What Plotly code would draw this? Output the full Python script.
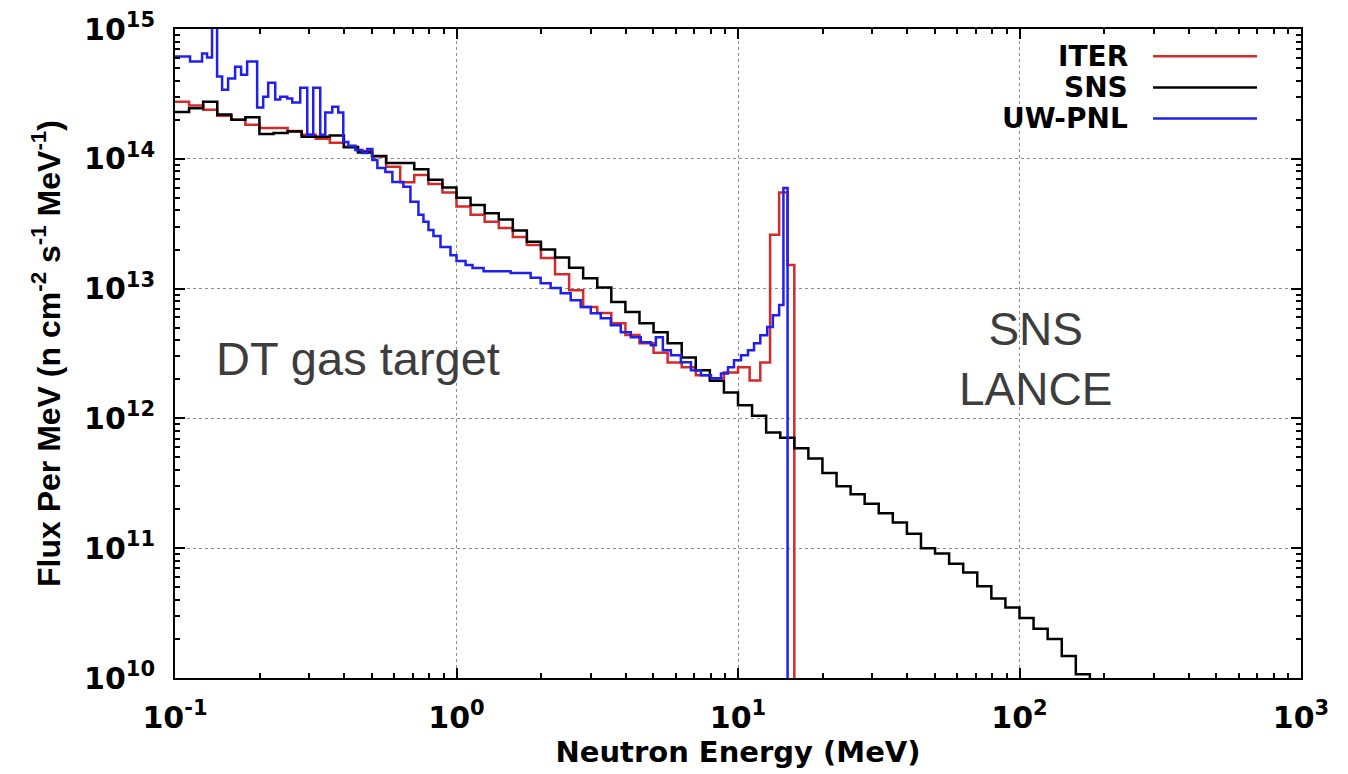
import plotly.graph_objects as go

# ---------------- data ----------------
# 20 equal-lethargy bins per decade (mantissas of the group edges)
GROUP_MANTISSA = [1.0, 1.122, 1.259, 1.413, 1.585, 1.778, 1.995, 2.239, 2.512, 2.818,
                  3.162, 3.548, 3.981, 4.467, 5.012, 5.623, 6.310, 7.079, 7.943, 8.913]
DECADES = [-1, 0, 1, 2]
GRID_EDGES = [m * 10 ** d for d in DECADES for m in GROUP_MANTISSA] + [1000.0]

# SNS (black) : one value per 20/decade group, from 0.1 MeV
sns_flux = [2.29e14, 2.45e14, 2.75e14, 2.19e14, 2.0e14, 2.09e14, 1.55e14, 1.58e14, 1.62e14, 1.48e14,
            1.48e14, 1.51e14, 1.23e14, 1.12e14, 1.05e14, 9.3e13, 9.3e13, 8.3e13, 6.9e13, 6.0e13,
            5.0e13, 4.4e13, 3.8e13, 3.4e13, 2.8e13, 2.3e13, 2.0e13, 1.74e13, 1.45e13, 1.2e13,
            1.02e13, 7.9e12, 6.6e12, 5.4e12, 4.6e12, 3.8e12, 2.95e12, 2.35e12, 1.95e12, 1.58e12,
            1.26e12, 1.05e12, 7.8e11, 7.1e11, 5.9e11, 4.9e11, 3.8e11, 3.0e11, 2.6e11, 2.2e11,
            1.86e11, 1.58e11, 1.29e11, 1.0e11, 9.1e10, 7.6e10, 6.5e10, 5.1e10, 4.1e10, 3.5e10,
            2.9e10, 2.4e10, 2.0e10, 1.48e10, 1.07e10]

# ITER (red) : 20/decade groups up to 10 MeV, then 1 MeV groups up to the 14 MeV peak
iter_fine_edges = [11.0, 12.0, 13.0, 14.0, 15.0, 15.85]
iter_flux = [2.75e14, 2.57e14, 2.39e14, 2.15e14, 2.0e14, 1.83e14, 1.73e14, 1.73e14, 1.64e14, 1.53e14,
             1.43e14, 1.33e14, 1.24e14, 1.15e14, 1.04e14, 8.7e13, 6.6e13, 7.5e13, 6.4e13, 5.5e13,
             4.3e13, 3.7e13, 3.27e13, 2.93e13, 2.5e13, 2.17e13, 1.72e13, 1.29e13, 9.7e12, 7.2e12,
             6.5e12, 5.4e12, 4.4e12, 3.8e12, 3.2e12, 2.7e12, 2.48e12, 2.15e12, 2.04e12, 2.26e12,
             2.48e12, 1.96e12, 2.7e12, 2.6e13, 5.5e13, 1.52e13]

# UW-PNL (blue) : lower bin edges (MeV) and flux per bin
uw_low_edge = [0.1, 0.1131, 0.1248, 0.1300, 0.1354, 0.1411, 0.1470, 0.1544, 0.1635, 0.1717,
               0.1804, 0.1958, 0.2057, 0.2143, 0.2270, 0.2365, 0.2504, 0.2609, 0.2785, 0.2950,
               0.3098, 0.3281, 0.3419, 0.3620, 0.3802, 0.3961, 0.4127, 0.4371, 0.4628, 0.4822,
               0.5024, 0.5235, 0.5589, 0.5918, 0.6477, 0.6860, 0.7324, 0.7632, 0.7951, 0.8281,
               0.8772, 0.9519, 1.0, 1.077, 1.140, 1.248, 1.557, 1.834, 1.990, 2.160,
               2.345, 2.545, 2.762, 2.999, 3.254, 3.532, 3.834, 4.161, 4.517, 4.902,
               5.107, 5.409, 5.775, 6.268, 6.804, 7.385, 8.016, 8.700, 9.214, 9.678,
               10.25, 10.85, 11.40, 12.0, 12.7, 13.3, 14.0, 14.5]
uw_top_edge = 15.0
uw_flux = [6.13e14, 5.61e14, 6.47e14, 6.03e14, 1.1e15, 4.30e14, 3.41e14, 4.15e14, 5.13e14, 4.45e14,
           5.61e14, 2.48e14, 3.01e14, 3.86e14, 2.86e14, 3.01e14, 2.91e14, 2.71e14, 3.53e14, 1.53e14,
           3.53e14, 1.53e14, 2.27e14, 2.52e14, 2.27e14, 1.35e14, 1.26e14, 1.17e14, 1.11e14, 1.19e14,
           9.8e13, 8.5e13, 7.9e13, 6.64e13, 6.08e13, 4.66e13, 3.70e13, 3.27e13, 2.83e13, 2.54e13,
           2.09e13, 1.81e13, 1.63e13, 1.52e13, 1.44e13, 1.36e13, 1.32e13, 1.21e13, 1.10e13, 1.01e13,
           9.2e12, 8.15e12, 7.2e12, 6.47e12, 5.92e12, 5.23e12, 4.61e12, 4.22e12, 3.86e12, 3.66e12,
           4.22e12, 3.35e12, 3.06e12, 2.71e12, 2.35e12, 2.15e12, 2.04e12, 2.22e12, 2.48e12, 2.81e12,
           3.06e12, 3.35e12, 3.79e12, 4.38e12, 5.05e12, 6.24e12, 7.46e12, 5.97e13]

SERIES = ["ITER", "SNS", "UW-PNL"]
COLORS = {"ITER": "#d42a2a", "SNS": "#000000", "UW-PNL": "#1f1fee"}

x_tickvals = [0.1, 1, 10, 100, 1000]
x_ticktext = ["10<sup>-1</sup>", "10<sup>0</sup>", "10<sup>1</sup>", "10<sup>2</sup>", "10<sup>3</sup>"]
y_tickvals = [1e10, 1e11, 1e12, 1e13, 1e14, 1e15]
y_ticktext = ["10<sup>10</sup>", "10<sup>11</sup>", "10<sup>12</sup>", "10<sup>13</sup>",
              "10<sup>14</sup>", "10<sup>15</sup>"]
FLOOR = 1e8  # below the axis: histogram falls off the plot


def histogram_steps(edges, values):
    """edges has len(values)+1 entries; returns hv-step x/y ending with a drop."""
    xs = list(edges[:len(values)]) + [edges[len(values)], edges[len(values)]]
    ys = list(values) + [values[-1], FLOOR]
    return xs, ys


sns_edges = GRID_EDGES[:len(sns_flux) + 1]
iter_edges = GRID_EDGES[:41] + iter_fine_edges
uw_edges = uw_low_edge + [uw_top_edge]

data = {
    "ITER": histogram_steps(iter_edges, iter_flux),
    "SNS": histogram_steps(sns_edges, sns_flux),
    "UW-PNL": histogram_steps(uw_edges, uw_flux),
}

fig = go.Figure()
for name in SERIES:
    xs, ys = data[name]
    fig.add_trace(go.Scatter(x=xs, y=ys, mode="lines", name=name,
                             line=dict(color=COLORS[name], width=2.5, shape="hv"),
                             showlegend=False))

TICK_FONT = dict(family="DejaVu Sans", size=30, color="black", weight="bold")
axis_common = dict(
    type="log", showline=True, linecolor="black", linewidth=2, mirror="ticks",
    ticks="inside", ticklen=10, tickwidth=2, tickcolor="black",
    showgrid=True, gridcolor="#8a8a8a", gridwidth=1, griddash="dot",
    zeroline=False, tickfont=TICK_FONT, tickmode="array", automargin=False,
    minor=dict(ticks="inside", ticklen=5, tickwidth=1.5, tickcolor="black",
               dtick="D1", showgrid=False),
)

fig.update_xaxes(range=[-1, 3], tickvals=x_tickvals, ticktext=x_ticktext,
                 ticklabelstandoff=12,
                 title=dict(text="Neutron Energy (MeV)", standoff=8,
                            font=dict(family="DejaVu Sans", size=29, weight="bold", color="black")),
                 **axis_common)
fig.update_yaxes(range=[10, 15], tickvals=y_tickvals, ticktext=y_ticktext,
                 ticklabelstandoff=12,
                 title=dict(text="Flux Per MeV (n cm<sup>-2</sup> s<sup>-1</sup> MeV<sup>-1</sup>)",
                            standoff=14,
                            font=dict(family="Liberation Sans", size=32,
                                      weight="bold", color="black")),
                 **axis_common)

# custom legend (label to the left of its line sample, as in the original)
legend_rows = [0.958, 0.910, 0.862]
for name, yr in zip(SERIES, legend_rows):
    fig.add_annotation(x=0.848, y=yr, xref="paper", yref="paper", text=name,
                       showarrow=False, xanchor="right", yanchor="middle",
                       font=dict(family="DejaVu Sans", size=28, weight="bold", color="black"))
    fig.add_shape(type="line", xref="paper", yref="paper", x0=0.8686, x1=0.9609, y0=yr, y1=yr,
                  line=dict(color=COLORS[name], width=2.5))

fig.add_annotation(x=0.1625, y=0.493, xref="paper", yref="paper", text="DT gas target",
                   showarrow=False, xanchor="center", yanchor="middle",
                   font=dict(family="Liberation Sans", size=47, color="#3d3d3d"))
fig.add_annotation(x=0.7638, y=0.4915, xref="paper", yref="paper", text="SNS<br>LANCE",
                   showarrow=False, xanchor="center", yanchor="middle",
                   font=dict(family="Liberation Sans", size=46, color="#3d3d3d"))

fig.update_layout(width=1348, height=774, margin=dict(l=175, r=47, t=29, b=96),
                  paper_bgcolor="white", plot_bgcolor="white")

fig.write_html("out.html")
